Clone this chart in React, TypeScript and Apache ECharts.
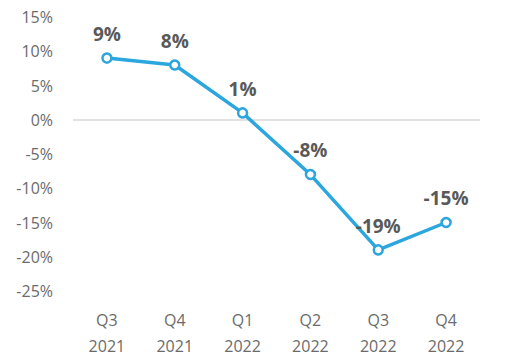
import React, { useEffect, useRef } from "react";
import * as echarts from "echarts";

const categories = ["Q3\n2021", "Q4\n2021", "Q1\n2022", "Q2\n2022", "Q3\n2022", "Q4\n2022"];
const values = [9, 8, 1, -8, -19, -15];
const yMin = -25;
const yMax = 15;
const yStep = 5;

export default function App() {
  const ref = useRef<HTMLDivElement>(null);
  useEffect(() => {
    if (!ref.current) return;
    const chart = echarts.init(ref.current, null, { renderer: "svg" });
    const font = "'Open Sans', 'Noto Sans', sans-serif";
    chart.setOption({
      animation: false,
      backgroundColor: "#ffffff",
      grid: { left: 73, right: 46, top: 17, bottom: 73 },
      xAxis: {
        type: "category",
        data: categories,
        boundaryGap: true,
        axisLine: { show: false },
        axisTick: { show: false },
        axisLabel: {
          color: "#6b6b6b",
          fontSize: 16,
          fontFamily: font,
          lineHeight: 26,
          margin: 16,
        },
      },
      yAxis: {
        type: "value",
        min: yMin,
        max: yMax,
        interval: yStep,
        splitLine: { show: false },
        axisLine: { show: false },
        axisTick: { show: false },
        axisLabel: {
          color: "#6b6b6b",
          fontSize: 16,
          fontFamily: font,
          margin: 20,
          formatter: (v: number) => `${v}%`,
        },
      },
      series: [
        {
          type: "line",
          data: values,
          symbol: "circle",
          symbolSize: 9,
          lineStyle: { color: "#2ba6de", width: 3.5 },
          itemStyle: { color: "#ffffff", borderColor: "#2ba6de", borderWidth: 2.5 },
          label: {
            show: true,
            position: "top",
            distance: 9,
            color: "#595959",
            fontSize: 19,
            fontWeight: "bold",
            fontFamily: font,
            formatter: (p: any) => `${p.value}%`,
          },
          markLine: {
            silent: true,
            symbol: "none",
            label: { show: false },
            lineStyle: { color: "#d9d9d9", width: 1.5, type: "solid" },
            data: [{ yAxis: 0 }],
            z: 1,
          },
          z: 3,
        },
      ],
    });
    return () => chart.dispose();
  }, []);
  return (
    <div
      ref={ref}
      style={{ position: "absolute", left: 0, top: 0, width: 526, height: 364 }}
    />
  );
}
